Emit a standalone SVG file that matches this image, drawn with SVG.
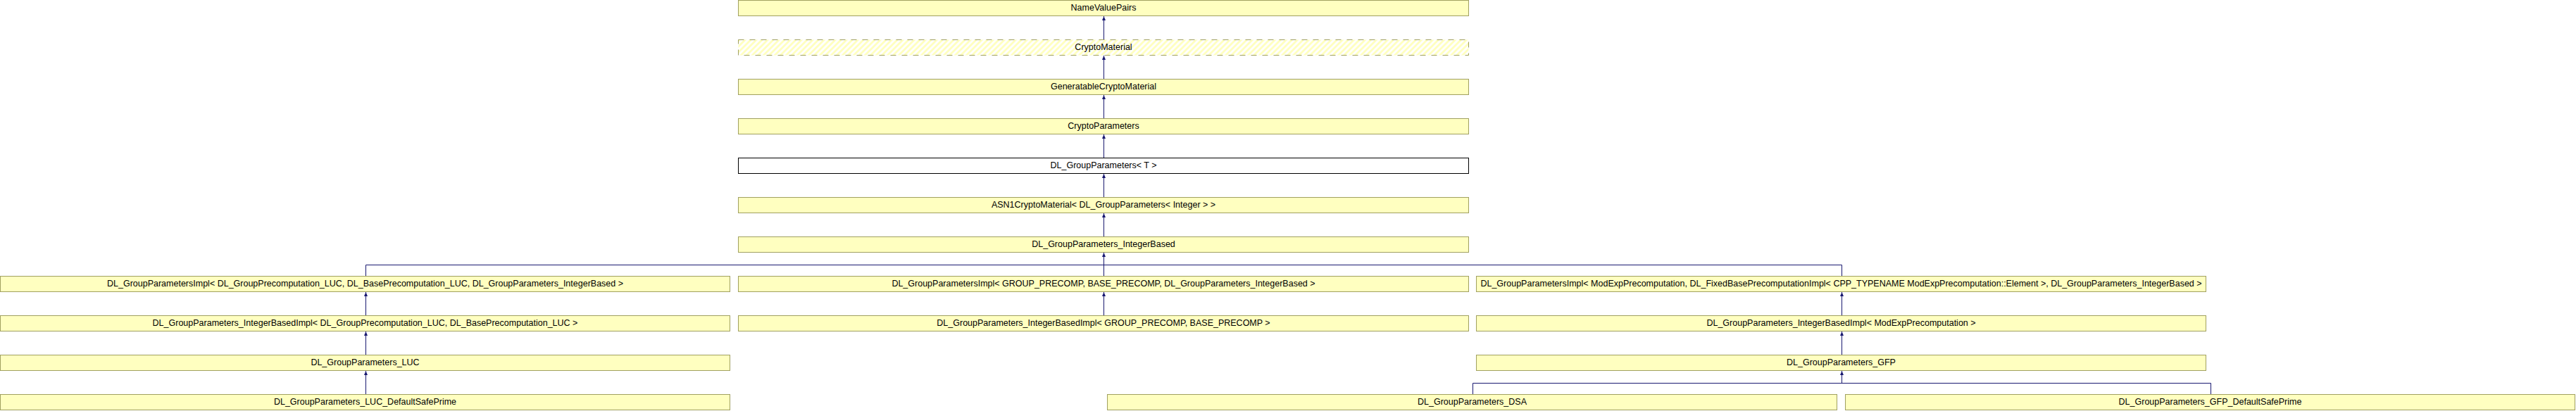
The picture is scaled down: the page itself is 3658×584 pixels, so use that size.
<svg xmlns="http://www.w3.org/2000/svg" width="3658" height="584" viewBox="0 0 3658 584">
<style>
.n rect{fill:#ffffc0;stroke:#a0a060;stroke-width:1}
.n.w rect{fill:#ffffff;stroke:#000000}
.n.h rect{fill:url(#hatch);stroke:#a0a060;stroke-dasharray:8 8}
text{font-family:"Liberation Sans",Arial,Helvetica,sans-serif;font-size:12.5px;text-anchor:middle;fill:#000}
#connectors path{stroke:#191970;stroke-width:1;fill:none}
#connectors path.a{marker-end:url(#arr)}
</style>
<defs>
<pattern id="hatch" patternUnits="userSpaceOnUse" width="5.66" height="5.66" patternTransform="rotate(45)">
<rect x="0" y="0" width="5.66" height="5.66" fill="#ffffff"/>
<rect x="0" y="0" width="2.83" height="5.66" fill="#ffffc0"/>
</pattern>
<marker id="arr" markerUnits="userSpaceOnUse" markerWidth="7" markerHeight="6" refX="6" refY="3" orient="auto">
<path d="M0,0.5 L6,3 L0,5.5 z" fill="#191970"/>
</marker>
</defs>
<rect x="0" y="0" width="3658" height="584" fill="#ffffff"/>

<g id="connectors">
<path class="a" d="M1567.5,56 V23"/>
<path class="a" d="M1567.5,112 V79"/>
<path class="a" d="M1567.5,168 V135"/>
<path class="a" d="M1567.5,224 V191"/>
<path class="a" d="M1567.5,280 V247"/>
<path class="a" d="M1567.5,336 V303"/>
<path class="a" d="M1567.5,392 V359"/>
<path d="M519.5,392 V376.5 H2615.5 V392"/>
<path class="a" d="M519.5,448 V415"/>
<path class="a" d="M1567.5,448 V415"/>
<path class="a" d="M2615.5,448 V415"/>
<path class="a" d="M519.5,504 V471"/>
<path class="a" d="M2615.5,504 V471"/>
<path class="a" d="M519.5,560 V527"/>
<path class="a" d="M2615.5,544.5 V527"/>
<path d="M2091.5,560 V544.5 H3139.5 V560"/>
</g>

<g id="n_namevaluepairs" class="n"><rect x="1048.5" y="0.5" width="1037" height="22"/><text x="1567" y="14.8">NameValuePairs</text></g>
<g id="n_cryptomaterial" class="n h"><rect x="1048.5" y="56.5" width="1037" height="22"/><text x="1567" y="70.8">CryptoMaterial</text></g>
<g id="n_generatable" class="n"><rect x="1048.5" y="112.5" width="1037" height="22"/><text x="1567" y="126.8">GeneratableCryptoMaterial</text></g>
<g id="n_cryptoparameters" class="n"><rect x="1048.5" y="168.5" width="1037" height="22"/><text x="1567" y="182.8">CryptoParameters</text></g>
<g id="n_dl_groupparameters_t" class="n w"><rect x="1048.5" y="224.5" width="1037" height="22"/><text x="1567" y="238.8">DL_GroupParameters&lt; T &gt;</text></g>
<g id="n_asn1" class="n"><rect x="1048.5" y="280.5" width="1037" height="22"/><text x="1567" y="294.8">ASN1CryptoMaterial&lt; DL_GroupParameters&lt; Integer &gt; &gt;</text></g>
<g id="n_integerbased" class="n"><rect x="1048.5" y="336.5" width="1037" height="22"/><text x="1567" y="350.8">DL_GroupParameters_IntegerBased</text></g>

<g id="n_impl_luc" class="n"><rect x="0.5" y="392.5" width="1036" height="22"/><text x="518.5" y="406.8">DL_GroupParametersImpl&lt; DL_GroupPrecomputation_LUC, DL_BasePrecomputation_LUC, DL_GroupParameters_IntegerBased &gt;</text></g>
<g id="n_impl_generic" class="n"><rect x="1048.5" y="392.5" width="1037" height="22"/><text x="1567" y="406.8">DL_GroupParametersImpl&lt; GROUP_PRECOMP, BASE_PRECOMP, DL_GroupParameters_IntegerBased &gt;</text></g>
<g id="n_impl_modexp" class="n"><rect x="2096.5" y="392.5" width="1036" height="22"/><text x="2614.5" y="406.8">DL_GroupParametersImpl&lt; ModExpPrecomputation, DL_FixedBasePrecomputationImpl&lt; CPP_TYPENAME ModExpPrecomputation::Element &gt;, DL_GroupParameters_IntegerBased &gt;</text></g>

<g id="n_ibimpl_luc" class="n"><rect x="0.5" y="448.5" width="1036" height="22"/><text x="518.5" y="462.8">DL_GroupParameters_IntegerBasedImpl&lt; DL_GroupPrecomputation_LUC, DL_BasePrecomputation_LUC &gt;</text></g>
<g id="n_ibimpl_generic" class="n"><rect x="1048.5" y="448.5" width="1037" height="22"/><text x="1567" y="462.8">DL_GroupParameters_IntegerBasedImpl&lt; GROUP_PRECOMP, BASE_PRECOMP &gt;</text></g>
<g id="n_ibimpl_modexp" class="n"><rect x="2096.5" y="448.5" width="1036" height="22"/><text x="2614.5" y="462.8">DL_GroupParameters_IntegerBasedImpl&lt; ModExpPrecomputation &gt;</text></g>

<g id="n_luc" class="n"><rect x="0.5" y="504.5" width="1036" height="22"/><text x="518.5" y="518.8">DL_GroupParameters_LUC</text></g>
<g id="n_gfp" class="n"><rect x="2096.5" y="504.5" width="1036" height="22"/><text x="2614.5" y="518.8">DL_GroupParameters_GFP</text></g>

<g id="n_luc_dsp" class="n"><rect x="0.5" y="560.5" width="1036" height="22"/><text x="518.5" y="574.8">DL_GroupParameters_LUC_DefaultSafePrime</text></g>
<g id="n_dsa" class="n"><rect x="1572.5" y="560.5" width="1036" height="22"/><text x="2090.5" y="574.8">DL_GroupParameters_DSA</text></g>
<g id="n_gfp_dsp" class="n"><rect x="2620.5" y="560.5" width="1036" height="22"/><text x="3138.5" y="574.8">DL_GroupParameters_GFP_DefaultSafePrime</text></g>
</svg>
